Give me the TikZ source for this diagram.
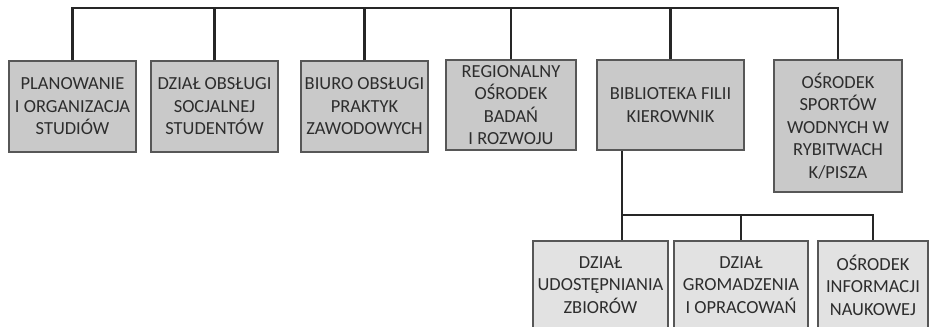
\documentclass[tikz,border=0pt]{standalone}
\usepackage{fontspec}
\setmainfont{Carlito}
\usepackage{xcolor}
\usepackage{tikz}

\definecolor{unitgray}{RGB}{201,201,201}
\definecolor{subgray}{RGB}{226,226,226}
\definecolor{inkgray}{RGB}{45,45,45}

\begin{document}
\begin{tikzpicture}[
      x=0.02cm, y=-0.02cm,
      box/.style={draw=inkgray!80, line width=0.6pt, align=center, inner sep=1pt,
                  text=inkgray, font=\fontsize{10.5}{12.8}\selectfont},
      unit/.style={box, fill=unitgray, minimum width=2.54cm, minimum height=1.82cm},
      subunit/.style={box, fill=subgray, minimum width=2.7cm, minimum height=1.76cm},
      link/.style={line width=1.2pt, black!85},
    ]
    \useasboundingbox (0,0) rectangle (931,327);
    \clip (0,0) rectangle (931,327);

    % Planowanie
    \node[unit] (plan) at (72.5,106.5) {PLANOWANIE\\I ORGANIZACJA\\STUDIÓW};

    % Dzial obslugi socjalnej
    \node[unit] (socj) at (214.5,106.5) {DZIAŁ OBSŁUGI\\SOCJALNEJ\\STUDENTÓW};

    % Biuro praktyk
    \node[unit] (prakt) at (364.5,106.5) {BIURO OBSŁUGI\\PRAKTYK\\ZAWODOWYCH};

    % Osrodek badan
    \node[unit, minimum width=2.6cm, minimum height=1.8cm] (badan) at (511,105)
         {REGIONALNY\\OŚRODEK\\BADAŃ\\I ROZWOJU};

    % Biblioteka
    \node[unit, minimum width=2.94cm, minimum height=1.8cm] (bibl) at (670.5,105)
         {BIBLIOTEKA FILII\\KIEROWNIK};

    % Osrodek sportow wodnych
    \node[unit, minimum width=2.56cm, minimum height=2.64cm] (sport) at (838,126)
         {OŚRODEK\\SPORTÓW\\WODNYCH W\\RYBITWACH\\K/PISZA};

    % Dzialy biblioteki
    \node[subunit] (udost) at (600.5,285) {DZIAŁ\\UDOSTĘPNIANIA\\ZBIORÓW};
    \node[subunit, minimum width=2.68cm] (groma) at (741,285) {DZIAŁ\\GROMADZENIA\\I OPRACOWAŃ};
    \node[subunit, minimum width=2.2cm] (inform) at (873,285) {OŚRODEK\\INFORMACJI\\NAUKOWEJ};

    % Lines
    \coordinate (bar) at (0,8);
    \coordinate (hub) at (622,215);
    \draw[link] (plan.north) -- (plan.north |- bar) -- (sport.north |- bar) -- (sport.north);
    \draw[link] (socj.north) -- (socj.north |- bar);
    \draw[link] (prakt.north) -- (prakt.north |- bar);
    \draw[link] (badan.north) -- (badan.north |- bar);
    \draw[link] (bibl.north) -- (bibl.north |- bar);
    \draw[link] (bibl.south -| hub) -- (hub) -- (hub -| inform.north) -- (inform.north);
    \draw[link] (hub) -- (udost.north -| hub);
    \draw[link] (groma.north |- hub) -- (groma.north);

  \end{tikzpicture}
\end{document}
